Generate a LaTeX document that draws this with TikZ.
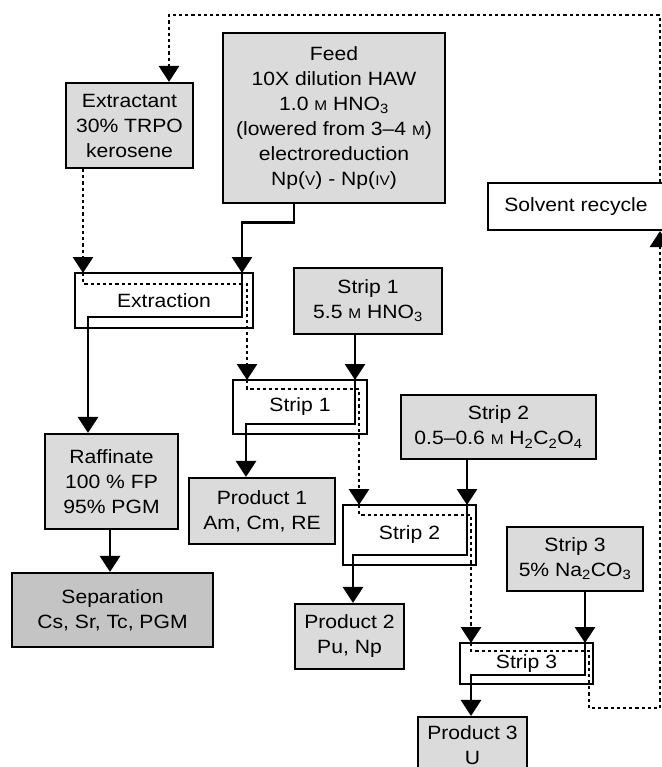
\documentclass[tikz,border=0pt]{standalone}
\usepackage{fontspec}
\setmainfont{Liberation Sans}[FakeStretch=1.1]
\usepackage{tikz}
\usetikzlibrary{arrows.meta,positioning}
\definecolor{boxgray}{gray}{0.86}
\definecolor{sepgray}{gray}{0.77}
\newcommand{\molar}{{\fontsize{14}{14}\selectfont M}}
\newcommand{\oxst}[1]{{\fontsize{14}{14}\selectfont #1}}

\begin{document}
\begin{tikzpicture}[x=1pt, y=-1pt, font=\fontsize{19.2}{25}\selectfont]
	\tikzset{align=center}
	\tikzset{feedbox/.style = {draw, fill=boxgray, line width=2.1pt, inner sep=0pt}}
	\tikzset{stagebox/.style = {draw, fill=white, line width=2.4pt, inner sep=0pt}}
	\tikzset{aq/.style = {line width=2.9pt, -{Triangle[length=16pt,width=20pt]}}}
	\tikzset{org/.style = {aq, dash pattern=on 3.2pt off 3pt}}

	\useasboundingbox (0,0) rectangle (661,767);

	\node[feedbox, minimum width=127pt, minimum height=85pt] (extractant) at (129.5,125.5) {Extractant\\30\% TRPO\\kerosene};
	\node[feedbox, minimum width=222pt, minimum height=170pt] (feed) at (334,118) {Feed\\10X dilution HAW\\1.0 \molar{} HNO\textsubscript{3}\\(lowered from 3--4 \molar)\\electroreduction\\Np(\oxst{V}) - Np(\oxst{IV})};
	\node[stagebox, line width=2.1pt, minimum width=176pt, minimum height=47pt] (recycle) at (576,206.5) {Solvent recycle};

	\node[stagebox, minimum width=178pt, minimum height=55pt] (extraction) at (164,300.5) {Extraction};
	\node[feedbox, minimum width=148pt, minimum height=66pt] (strip1in) at (368,301) {Strip 1\\5.5 \molar{} HNO\textsubscript{3}};
	\node[stagebox, minimum width=134pt, minimum height=54pt] (strip1) at (300,407) {Strip 1};
	\node[feedbox, minimum width=133pt, minimum height=95pt] (raffinate) at (111.5,481.5) {Raffinate\\100 \% FP\\95\% PGM};
	\node[feedbox, minimum width=146pt, minimum height=66pt] (product1) at (262,511) {Product 1\\Am, Cm, RE};
	\node[feedbox, minimum width=195pt, minimum height=64pt] (strip2in) at (498.5,427) {Strip 2\\0.5--0.6 \molar{} H\textsubscript{2}C\textsubscript{2}O\textsubscript{4}};
	\node[stagebox, minimum width=133pt, minimum height=60pt] (strip2) at (409.5,535) {Strip 2};
	\node[feedbox, fill=sepgray, minimum width=201pt, minimum height=74pt] (separation) at (112.5,610) {Separation\\Cs, Sr, Tc, PGM};
	\node[feedbox, minimum width=109pt, minimum height=65pt] (product2) at (349.5,636.5) {Product 2\\Pu, Np};
	\node[feedbox, minimum width=136pt, minimum height=64pt] (strip3in) at (575,559) {Strip 3\\5\% Na\textsubscript{2}CO\textsubscript{3}};
	\node[stagebox, minimum width=133pt, minimum height=41pt] (strip3) at (526.5,663.5) {Strip 3};
	\node[feedbox, minimum width=109pt, minimum height=56pt] (product3) at (472.5,745) {Product 3\\U};

	\coordinate (ex-o) at (83,273);
	\coordinate (ex-a) at (242,273);
	\coordinate (s1-o) at (247,380);
	\coordinate (s1-a) at (355,380);
	\coordinate (s2-o) at (359,505);
	\coordinate (s2-a) at (467,505);
	\coordinate (s3-o) at (471,643);
	\coordinate (s3-a) at (585,643);
	\coordinate (loop) at (660,15);

	\draw[org] (extractant.south -| ex-o) -- (ex-o);
	\draw[org] (ex-o) -- ++(0,11) -| (s1-o);
	\draw[org] (s1-o) -- ++(0,9) -| (s2-o);
	\draw[org] (s2-o) -- ++(0,10) -| (s3-o);
	\draw[org] (s3-o) -- ++(0,8) -| ++(118,57) -| (recycle.south -| loop);
	\draw[org] (recycle.north -| loop) -- (loop) -| (extractant.north -| 169,0);

	\draw[aq] (feed.south -| 294,0) -- ++(0,18) -| (ex-a);
	\draw[aq] (ex-a) -- ++(0,44) -| (raffinate.north -| 88,0);
	\draw[aq] (raffinate.south -| 110,0) -- (separation.north -| 110,0);
	\draw[aq] (strip1in.south -| s1-a) -- (s1-a);
	\draw[aq] (s1-a) -- ++(0,44) -| (product1.north -| 246,0);
	\draw[aq] (strip2in.south -| s2-a) -- (s2-a);
	\draw[aq] (s2-a) -- ++(0,50) -| (product2.north -| 353,0);
	\draw[aq] (strip3in.south -| s3-a) -- (s3-a);
	\draw[aq] (s3-a) -- ++(0,32) -| (product3.north -| 471,0);
\end{tikzpicture}
\end{document}
